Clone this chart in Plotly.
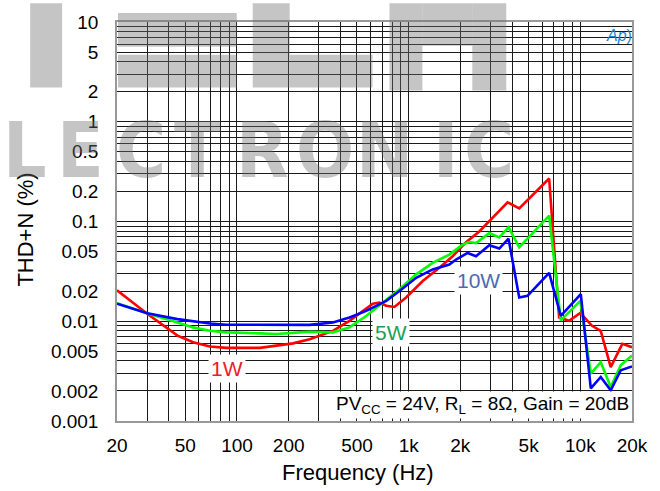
import math
import plotly.graph_objects as go

# ---------------- data ----------------
freq_1w = [20, 30, 45, 55.5, 69.5, 87, 136, 170, 212, 265, 362, 452, 618, 676, 740,
           826, 966, 1208, 1510, 1805, 2160, 2579, 3768, 4406, 6584, 7526, 8606,
           10000, 11700, 13150, 15030, 17570, 20000]
thd_1w = [0.0204, 0.0119, 0.00718, 0.00615, 0.00558, 0.00541, 0.00541, 0.00571,
          0.0060, 0.0066, 0.0080, 0.0101, 0.0150, 0.0154, 0.0143, 0.0139, 0.0173,
          0.0253, 0.0343, 0.0449, 0.062, 0.0795, 0.1556, 0.1356, 0.270, 0.0109,
          0.0101, 0.0121, 0.0090, 0.0080, 0.00347, 0.00593, 0.00549]

freq_5w = [20, 30, 45, 55.5, 69.5, 87, 136, 170, 232, 265, 362, 452, 566, 707, 884,
           1106, 1380, 1726, 2062, 2257, 2468, 2950, 3371, 3818, 4406, 6584, 7696,
           10000, 11506, 13150, 15030, 17190, 20000]
thd_5w = [0.0152, 0.0120, 0.0097, 0.00868, 0.00804, 0.00774, 0.00756, 0.00746,
          0.00774, 0.00786, 0.00774, 0.00868, 0.0113, 0.0154, 0.0209, 0.0295,
          0.0385, 0.0466, 0.0586, 0.0622, 0.0608, 0.0765, 0.0693, 0.0877, 0.0551,
          0.1148, 0.0102, 0.0160, 0.00298, 0.00389, 0.00219, 0.00361, 0.00454]

freq_10w = [20, 30, 45, 55.5, 69.5, 87, 136, 212, 265, 362, 452, 566, 740, 884, 1106,
            1380, 1726, 1888, 2206, 2468, 2950, 3371, 3818, 4406, 4924, 6584, 7696,
            10062, 11506, 13150, 15030, 17190, 20000]
thd_10w = [0.0150, 0.0120, 0.0105, 0.00995, 0.00951, 0.00923, 0.00917, 0.00917,
           0.0092, 0.00973, 0.0109, 0.0127, 0.0160, 0.0201, 0.0273, 0.0331, 0.0371,
           0.0416, 0.0484, 0.0449, 0.0577, 0.0535, 0.0673, 0.0173, 0.0180, 0.0306,
           0.01134, 0.0187, 0.00212, 0.00276, 0.00203, 0.00322, 0.00353]

series_names = ["1W", "5W", "10W"]

x_grid = [20, 30, 40, 50, 60, 70, 80, 90, 100, 200, 300, 400, 500, 600, 700, 800, 900,
          1000, 2000, 3000, 4000, 5000, 6000, 7000, 8000, 9000, 10000, 20000]
x_labels = {20: "20", 50: "50", 100: "100", 200: "200", 500: "500", 1000: "1k",
            2000: "2k", 5000: "5k", 10000: "10k", 20000: "20k"}

y_grid = [0.001, 0.002, 0.003, 0.004, 0.005, 0.006, 0.007, 0.008, 0.009,
          0.01, 0.02, 0.03, 0.04, 0.05, 0.06, 0.07, 0.08, 0.09,
          0.1, 0.2, 0.3, 0.4, 0.5, 0.6, 0.7, 0.8, 0.9,
          1, 2, 3, 4, 5, 6, 7, 8, 9, 10]
y_labels = {0.001: "0.001", 0.002: "0.002", 0.005: "0.005", 0.01: "0.01", 0.02: "0.02",
            0.05: "0.05", 0.1: "0.1", 0.2: "0.2", 0.5: "0.5", 1: "1", 2: "2", 5: "5",
            10: "10"}

# label anchor points (Hz, %)
label_pos = {"1W": (88, 0.00337), "5W": (784, 0.00769), "10W": (2546, 0.0256)}

# ---------------- styling / layout ----------------
W, H = 660, 491
L, R, T, B = 117, 27, 19, 70
PW, PH = W - L - R, H - T - B
FONT = "Liberation Sans, Arial, sans-serif"


def px(x):
    return (x - L) / PW


def py(y):
    return (H - B - y) / PH


colors = {"1W": "#ff0000", "5W": "#00ff00", "10W": "#0000ff"}
label_colors = {"1W": "#ee1c25", "5W": "#18a257", "10W": "#4a6bb3"}

fig = go.Figure()
for name, fx, fy in [("1W", freq_1w, thd_1w), ("5W", freq_5w, thd_5w),
                     ("10W", freq_10w, thd_10w)]:
    fig.add_trace(go.Scatter(x=fx, y=fy, mode="lines", name=name,
                             line=dict(color=colors[name], width=2.6),
                             showlegend=False))

fig.update_xaxes(type="log", range=[math.log10(20), math.log10(20000)],
                 tickvals=x_grid, ticktext=[x_labels.get(v, "") for v in x_grid],
                 showgrid=True, gridcolor="#1a1a1a", gridwidth=1,
                 showline=True, linecolor="#999999", linewidth=1.5, mirror=True,
                 ticks="", ticklabelstandoff=6, zeroline=False,
                 tickfont=dict(family=FONT, size=19, color="#000"))
fig.update_yaxes(type="log", range=[-3, 1],
                 tickvals=y_grid, ticktext=[y_labels.get(v, "") for v in y_grid],
                 showgrid=True, gridcolor="#1a1a1a", gridwidth=1,
                 showline=True, linecolor="#999999", linewidth=1.5, mirror=True,
                 ticks="", ticklabelstandoff=13, zeroline=False,
                 tickfont=dict(family=FONT, size=19, color="#000"))

annotations = []
for name in series_names:
    fx, fy = label_pos[name]
    annotations.append(dict(x=math.log10(fx), y=math.log10(fy), xref="x", yref="y",
                            xanchor="center", yanchor="middle",
                            text=name, showarrow=False, bgcolor="white",
                            borderpad=2,
                            font=dict(family=FONT, size=21, color=label_colors[name])))

annotations.append(dict(x=px(632), y=py(405), xref="paper", yref="paper",
                        xanchor="right", yanchor="middle", showarrow=False,
                        bgcolor="white", borderpad=1,
                        text="PV<sub>CC</sub> = 24V, R<sub>L</sub> = 8Ω, Gain = 20dB",
                        font=dict(family=FONT, size=19, color="#000")))
annotations.append(dict(x=px(358), y=py(473), xref="paper", yref="paper",
                        xanchor="center", yanchor="middle",
                        text="Frequency (Hz)", showarrow=False,
                        font=dict(family=FONT, size=22, color="#000")))
annotations.append(dict(x=px(25), y=py(228), xref="paper", yref="paper",
                        xanchor="center", yanchor="middle",
                        text="THD+N (%)", showarrow=False, textangle=-90,
                        font=dict(family=FONT, size=22, color="#000")))
annotations.append(dict(x=px(620), y=py(33), xref="paper", yref="paper",
                        xanchor="center", yanchor="middle",
                        text="<i>Ap</i>)", showarrow=False,
                        font=dict(family=FONT, size=16, color="#1f84cc")))

# ---------------- background watermark ----------------
WM = "rgba(110,110,110,0.40)"
wm_letters = [("L", 25), ("E", 80), ("C", 141), ("T", 198), ("R", 263), ("O", 325),
              ("N", 385), ("I", 446), ("C", 490)]
for ch, cx in wm_letters:
    annotations.append(dict(x=px(cx), y=py(148), xref="paper", yref="paper",
                            xanchor="center", yanchor="middle",
                            text="<b>%s</b>" % ch, showarrow=False,
                            font=dict(family="DejaVu Sans Condensed, Liberation Sans Narrow, Liberation Sans",
                                      size=76, color=WM)))

wm_boxes = [(30, 0, 62, 85), (118, 10, 237, 44), (118, 52, 237, 85), (253, 0, 290, 85),
            (290, 52, 373, 85), (390, 0, 423, 88), (473, 0, 507, 88), (423, 0, 473, 43)]
shapes = []
for x0, y0, x1, y1 in wm_boxes:
    shapes.append(dict(type="rect", xref="paper", yref="paper",
                       x0=px(x0), x1=px(x1), y0=py(y1), y1=py(y0),
                       fillcolor=WM, line=dict(width=0), layer="above"))

fig.update_layout(width=W, height=H, margin=dict(l=L, r=R, t=T, b=B),
                  paper_bgcolor="white", plot_bgcolor="white",
                  annotations=annotations, shapes=shapes,
                  font=dict(family=FONT))

fig.write_html("out.html", config={"displayModeBar": False},
               post_script="document.body.style.margin='0';document.body.style.padding='0';")
